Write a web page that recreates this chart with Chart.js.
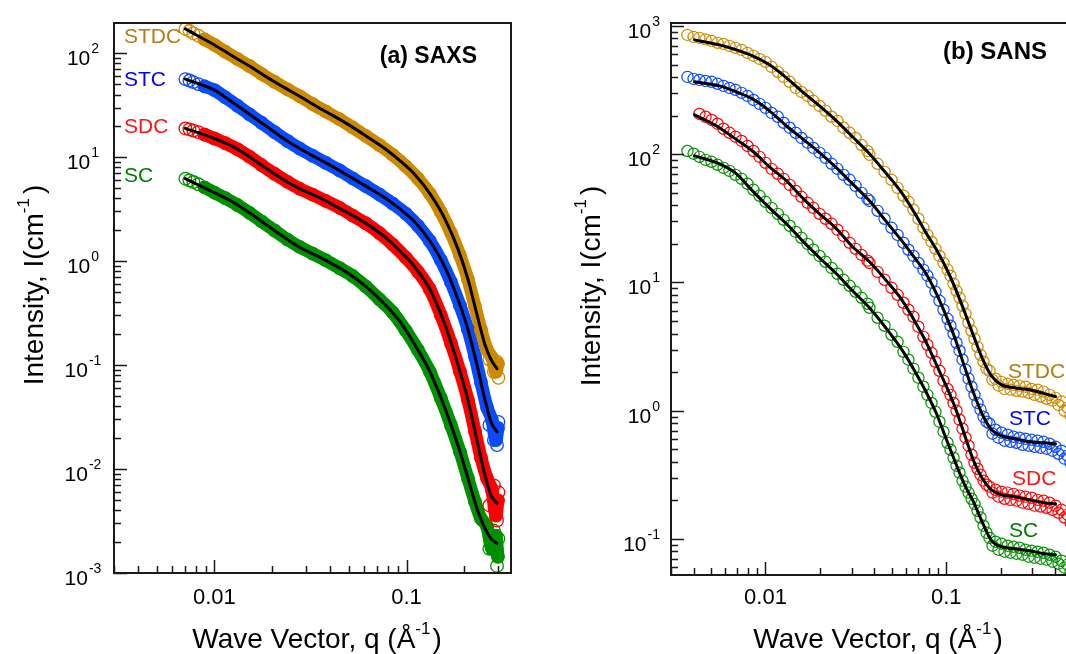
<!DOCTYPE html>
<html>
<head>
<meta charset="utf-8">
<title>SAXS and SANS intensity profiles</title>
<script src="https://cdn.jsdelivr.net/npm/chart.js@4.4.0/dist/chart.umd.min.js"></script>
<style>
  html, body { margin: 0; padding: 0; background: #fff; overflow: hidden; }
  #wrap { position: relative; width: 1066px; height: 654px; overflow: hidden; background: #fff; }
  #cA { position: absolute; left: 0; top: 0; }
  #cB { position: absolute; left: 540px; top: 0; }
</style>
</head>
<body>
<div id="wrap">
  <canvas id="cA" width="540" height="654"></canvas>
  <canvas id="cB" width="560" height="654"></canvas>
</div>
<script>
// ---------- sample names and tick labels ----------
const sampleNames = ['STDC', 'STC', 'SDC', 'SC'];
const xTickValues = [0.01, 0.1];
const xTickLabels = ['0.01', '0.1'];
const yExpSaxs = [-3, -2, -1, 0, 1, 2];
const yExpSans = [-1, 0, 1, 2, 3];

// ---------- (a) SAXS: measured points ----------
const saxsQ = [0.00706, 0.00741, 0.00777, 0.00825, 0.00887, 0.0100, 0.01141, 0.01318, 0.01522, 0.01758,
  0.02056, 0.02403, 0.02776, 0.03245, 0.03793, 0.04488, 0.05247, 0.06133, 0.07256, 0.08483,
  0.09917, 0.1146, 0.1323, 0.1510, 0.1703, 0.1897, 0.2088, 0.2272, 0.2441, 0.2624,
  0.2786, 0.2922, 0.2993];
const saxsSTDC = [171, 164, 155, 147, 136, 120, 103, 87.9, 75.2, 63.2,
  53.0, 44.8, 38.6, 32.4, 27.5, 23.1, 19.3, 16.0, 13.0, 10.5,
  8.18, 6.24, 4.45, 2.96, 1.87, 1.14, 0.670, 0.367, 0.220, 0.141,
  0.118, 0.0863, 0.103];
const saxsSTC = [56.3, 54.5, 52.7, 50.4, 48.0, 44.1, 37.5, 31.2, 25.8, 21.4,
  17.4, 14.3, 12.1, 10.3, 8.83, 7.44, 6.24, 5.27, 4.35, 3.57,
  2.86, 2.19, 1.56, 1.02, 0.629, 0.375, 0.220, 0.121, 0.0684, 0.0393,
  0.0296, 0.0190, 0.0248];
const saxsSDC = [18.9, 18.5, 18.0, 17.4, 16.5, 15.1, 13.6, 11.9, 10.1, 8.39,
  6.91, 5.77, 4.97, 4.36, 3.79, 3.25, 2.74, 2.31, 1.85, 1.44,
  1.08, 0.793, 0.536, 0.302, 0.163, 0.0869, 0.0463, 0.0232, 0.0129, 0.00815,
  0.00624, 0.00357, 0.00499];
const saxsSC = [6.21, 5.98, 5.76, 5.48, 5.12, 4.55, 4.02, 3.46, 2.91, 2.41,
  1.97, 1.61, 1.37, 1.18, 1.02, 0.854, 0.718, 0.571, 0.426, 0.320,
  0.214, 0.140, 0.0863, 0.0480, 0.0265, 0.0147, 0.00815, 0.00485, 0.00334, 0.00280,
  0.00171, 0.00229, 0.00143];
// scattered points at the high-q end
const saxsTailQ = [0.2700, 0.2850, 0.2960, 0.3010];
const saxsTailSTDC = [0.113, 0.0863, 0.108, 0.0755];
const saxsTailSTC = [0.0265, 0.0190, 0.0170, 0.0284];
const saxsTailSDC = [0.00447, 0.00697, 0.00320, 0.00597];
const saxsTailSC = [0.00171, 0.00256, 0.00117, 0.00214];

// ---------- (a) SAXS: model fits ----------
const saxsFitQ = [0.00706, 0.0100, 0.01241, 0.01522, 0.01867, 0.0229, 0.02776, 0.0353, 0.04125, 0.0506,
  0.0621, 0.0770, 0.0923, 0.1105, 0.1323, 0.1584, 0.1852, 0.2088, 0.2326, 0.2562, 0.2754, 0.2959];
const saxsFitSTDC = [171, 120, 94, 75.2, 58.9, 47.1, 38.5, 29.5, 25.2, 20.2,
  15.8, 12.1, 9.27, 6.79, 4.45, 2.55, 1.31, 0.670, 0.307, 0.157, 0.113, 0.0923];
const saxsFitSTC = [56.3, 44.1, 33.7, 25.8, 19.8, 15.1, 12.1, 9.48, 8.11, 6.49,
  5.20, 4.07, 3.18, 2.38, 1.56, 0.875, 0.429, 0.220, 0.101, 0.0463, 0.0284, 0.0227];
const saxsFitSDC = [18.9, 15.1, 12.7, 10.1, 7.76, 6.07, 4.97, 4.07, 3.48, 2.85,
  2.28, 1.71, 1.25, 0.875, 0.536, 0.246, 0.101, 0.0463, 0.0190, 0.00871, 0.00558, 0.00467];
const saxsFitSC = [6.21, 4.55, 3.72, 2.91, 2.23, 1.71, 1.36, 1.09, 0.935, 0.749,
  0.561, 0.384, 0.263, 0.157, 0.0863, 0.0387, 0.0170, 0.00815, 0.00418, 0.00268, 0.00214, 0.00192];

// ---------- (b) SANS: measured points (three detector settings) ----------
const sansQ = [
  0.00370, 0.00400, 0.00431, 0.00466, 0.00503, 0.00543, 0.00586, 0.00632, 0.00682, 0.00737,
  0.00795, 0.00858, 0.00927, 0.0100, 0.0108, 0.0117, 0.0126, 0.0136, 0.0147, 0.0158,
  0.0171, 0.0184, 0.0199, 0.0215, 0.0232, 0.0250, 0.0270, 0.0292, 0.0315, 0.0340, 0.0367,
  0.0376, 0.0417, 0.0456, 0.0498, 0.0538, 0.0580, 0.0618, 0.0659, 0.0702, 0.0748,
  0.0787, 0.0829, 0.0872, 0.0918, 0.0966, 0.1017, 0.1056, 0.1098, 0.1140, 0.1185,
  0.1231, 0.1279, 0.1329, 0.1381, 0.1434, 0.1490, 0.1548, 0.1609, 0.1671,
  0.1736, 0.1804, 0.1874, 0.1947, 0.2023, 0.2102, 0.2184, 0.2269, 0.2358, 0.2449,
  0.2545, 0.2644, 0.2747, 0.2854, 0.2965, 0.3081, 0.3201, 0.3326, 0.3455, 0.3590,
  0.3730, 0.3875, 0.4026, 0.4183, 0.4346, 0.4515, 0.4691, 0.4874];
const sansSTDC = [
  852, 822, 808, 786, 765, 739, 725, 700, 675, 651,
  617, 585, 554, 525, 480, 439, 401, 367, 329, 306,
  285, 261, 238, 218, 196, 182, 161, 147, 134, 118, 106,
  98.9, 84.2, 72.9, 63.2, 54.7, 47.4, 42.6, 36.9, 31.4, 26.7,
  23.5, 20.8, 18.3, 16.1, 14.2, 12.6, 11.3, 9.77, 8.62, 7.60,
  6.58, 5.70, 4.85, 4.20, 3.64, 3.15, 2.73, 2.41, 2.13,
  2.05, 1.74, 1.78, 1.57, 1.68, 1.48, 1.62, 1.46, 1.59, 1.43,
  1.57, 1.41, 1.54, 1.38, 1.48, 1.33, 1.46, 1.29, 1.41, 1.24,
  1.33, 1.20, 1.26, 1.11, 1.18, 1.00, 1.06, 0.914];
const sansSTC = [
  401, 387, 380, 373, 367, 354, 341, 329, 318, 301,
  285, 265, 247, 230, 210, 196, 176, 161, 147, 134,
  123, 112, 103, 93.7, 84.2, 76.9, 69.1, 63.2, 56.7, 50.0, 44.9,
  43.3, 36.2, 31.4, 26.7, 23.5, 20.4, 18.0, 16.1, 14.2, 12.6,
  11.3, 9.95, 8.46, 7.20, 6.13, 5.21, 4.60, 3.98, 3.39, 2.94,
  2.50, 2.09, 1.78, 1.54, 1.33, 1.15, 1.02, 0.898, 0.821,
  0.792, 0.662, 0.711, 0.616, 0.674, 0.584, 0.650, 0.573, 0.627, 0.563,
  0.616, 0.543, 0.605, 0.534, 0.594, 0.524, 0.584, 0.515, 0.573, 0.506,
  0.553, 0.488, 0.524, 0.462, 0.488, 0.423, 0.446, 0.393];
const sansSDC = [
  null, null, 206, 196, 185, 173, 158, 147, 137, 127,
  116, 106, 95.4, 85.7, 76.9, 70.4, 64.3, 57.7, 51.8, 46.6,
  41.8, 38.2, 34.3, 31.4, 28.7, 25.8, 23.1, 20.4, 18.3, 16.4, 14.8,
  14.2, 12.1, 10.5, 9.09, 8.02, 6.95, 6.13, 5.40, 4.52, 3.77,
  3.27, 2.83, 2.41, 2.05, 1.71, 1.48, 1.33, 1.15, 1.00, 0.851,
  0.724, 0.616, 0.534, 0.454, 0.393, 0.353, 0.317, 0.285, 0.265,
  0.256, 0.230, 0.242, 0.214, 0.234, 0.206, 0.230, 0.202, 0.225, 0.199,
  0.218, 0.192, 0.214, 0.188, 0.210, 0.182, 0.202, 0.179, 0.199, 0.175,
  0.192, 0.169, 0.182, 0.160, 0.169, 0.147, 0.155, 0.134];
const sansSC = [
  106, 101, 95.4, 90.4, 87.3, 82.7, 78.3, 74.2, 69.1, 64.3,
  58.8, 52.8, 47.4, 42.6, 38.2, 34.3, 30.8, 27.7, 24.8, 22.3,
  20.0, 18.0, 16.1, 14.5, 13.0, 11.7, 10.5, 9.43, 8.46, 7.60, 6.82,
  6.35, 5.31, 4.60, 3.91, 3.45, 2.88, 2.50, 2.13, 1.81, 1.54,
  1.33, 1.15, 0.982, 0.821, 0.686, 0.563, 0.497, 0.430, 0.373, 0.329,
  0.285, 0.256, 0.230, 0.206, 0.188, 0.166, 0.147, 0.127, 0.112,
  0.102, 0.0887, 0.0953, 0.0825, 0.0919, 0.0796, 0.0887, 0.0782, 0.0871, 0.0768,
  0.0855, 0.0754, 0.0825, 0.0728, 0.0811, 0.0715, 0.0796, 0.0702, 0.0782, 0.0690,
  0.0754, 0.0665, 0.0728, 0.0642, 0.0677, 0.0598, 0.0631, 0.0556];

// ---------- (b) SANS: model fits ----------
const sansFitQ = [0.00405, 0.00556, 0.00691, 0.00847, 0.01052, 0.01307, 0.01603, 0.01990, 0.02471, 0.03031,
  0.03763, 0.04672, 0.05731, 0.06677, 0.07682, 0.08838, 0.1004, 0.1126, 0.1263, 0.1416,
  0.1588, 0.1781, 0.2023, 0.2388, 0.2891, 0.3499, 0.4026];
const sansFitSTDC = [779, 712, 651, 585, 498, 394, 306, 238, 182, 137,
  101, 70.4, 49.1, 34.9, 24.8, 18.0, 12.8, 8.93, 5.91, 3.84,
  2.54, 1.87, 1.59, 1.51, 1.46, 1.36, 1.29];
const sansFitSTC = [367, 341, 306, 270, 218, 166, 132, 103, 78.3, 58.8,
  43.3, 29.7, 20.8, 15.6, 11.9, 8.16, 5.40, 3.58, 2.20, 1.38,
  0.931, 0.711, 0.638, 0.605, 0.573, 0.563, 0.553];
const sansFitSDC = [203, 161, 130, 106, 79.8, 62.0, 45.7, 34.3, 26.2, 19.0,
  14.5, 10.3, 7.20, 5.03, 3.51, 2.28, 1.54, 1.04, 0.650, 0.408,
  0.295, 0.242, 0.221, 0.214, 0.202, 0.192, 0.188];
const sansFitSC = [97.2, 84.2, 70.4, 51.8, 38.2, 28.7, 21.1, 15.6, 11.7, 8.62,
  6.35, 4.36, 2.94, 2.05, 1.43, 0.948, 0.594, 0.393, 0.265, 0.195,
  0.134, 0.0970, 0.0871, 0.0840, 0.0811, 0.0768, 0.0754];

// ---------- styling ----------
const dataColors = { STDC: '#CC8A00', STC: '#0A4BFF', SDC: '#FF0000', SC: '#009000' };
const textColors = { STDC: '#B27C16', STC: '#0000FF', SDC: '#FF1414', SC: '#007A00' };
const FONT = "'Liberation Sans', Arial, Helvetica, sans-serif";
const font = (size, bold) => (bold ? 'bold ' : '') + size + 'px ' + FONT;

const pts = (qs, vs) => qs.map((q, i) => ({ x: q, y: vs[i] })).filter(p => p.y != null);

function drawRich(ctx, parts, x, y, align) {
  let total = 0;
  parts.forEach(p => { ctx.font = font(p.size, p.bold); p.w = ctx.measureText(p.t).width; total += p.w + (p.gap || 0); });
  let cx = align === 'center' ? x - total / 2 : (align === 'right' ? x - total : x);
  ctx.textAlign = 'left';
  parts.forEach(p => { ctx.font = font(p.size, p.bold); ctx.fillText(p.t, cx, y + (p.dy || 0)); cx += p.w + (p.gap || 0); });
}

function logTicks(min, max) {
  const out = [];
  for (let e = Math.floor(Math.log10(min)); e <= Math.ceil(Math.log10(max)); e++) {
    for (let k = 1; k <= 9; k++) {
      const v = k * Math.pow(10, e);
      if (v >= min * 0.9999 && v <= max * 1.0001) out.push({ v, major: k === 1 });
    }
  }
  return out;
}

// frame, inward ticks, tick labels, axis titles and sample labels
function decorations(cfg) {
  return {
    id: 'decor' + cfg.id,
    afterDatasetsDraw(chart) {
      const ctx = chart.ctx, a = chart.chartArea, xs = chart.scales.x, ys = chart.scales.y;
      ctx.save();
      ctx.strokeStyle = '#1a1a1a';
      ctx.lineWidth = 2;
      ctx.strokeRect(a.left, a.top, a.right - a.left, a.bottom - a.top);

      ctx.lineWidth = 1.5;
      ctx.beginPath();
      logTicks(ys.min, ys.max).forEach(t => {
        const py = Math.round(ys.getPixelForValue(t.v)) + 0.5;
        ctx.moveTo(a.left, py); ctx.lineTo(a.left + (t.major ? 13 : 7), py);
      });
      logTicks(xs.min, xs.max).forEach(t => {
        const px = Math.round(xs.getPixelForValue(t.v)) + 0.5;
        ctx.moveTo(px, a.bottom); ctx.lineTo(px, a.bottom - (t.major ? 13 : 7));
      });
      ctx.stroke();

      ctx.fillStyle = '#000';
      ctx.textBaseline = 'middle';
      cfg.yExp.forEach(e => {
        const py = ys.getPixelForValue(Math.pow(10, e));
        ctx.font = font(21); const w1 = ctx.measureText('10').width;
        ctx.font = font(14); const w2 = ctx.measureText(String(e)).width;
        const w = w1 + w2 + 1;
        const x0 = cfg.yAlign === 'center' ? cfg.yLabelX - w / 2 : cfg.yLabelX - w;
        ctx.textAlign = 'left';
        ctx.font = font(21); ctx.fillText('10', x0, py + 6);
        ctx.font = font(14); ctx.fillText(String(e), x0 + w1 + 1, py - 4);
      });
      ctx.textAlign = 'center';
      ctx.font = font(22);
      xTickValues.forEach((v, i) => ctx.fillText(xTickLabels[i], xs.getPixelForValue(v), cfg.xLabelY));

      ctx.textBaseline = 'alphabetic';
      drawRich(ctx, [
        { t: 'Wave Vector, q (Å', size: 28 },
        { t: '-1', size: 17, dy: -14, gap: 2 },
        { t: ')', size: 28 }
      ], cfg.xTitleX, cfg.xTitleY, 'center');

      ctx.save();
      ctx.translate(cfg.yTitleX, cfg.yTitleY);
      ctx.rotate(-Math.PI / 2);
      drawRich(ctx, [
        { t: 'Intensity, I(cm', size: 28 },
        { t: '-1', size: 17, dy: -14, gap: 4 },
        { t: ')', size: 28 }
      ], 0, 0, 'center');
      ctx.restore();

      ctx.textBaseline = 'middle';
      ctx.textAlign = cfg.titleAlign;
      ctx.font = font(cfg.titleSize, true);
      ctx.fillText(cfg.title, cfg.titleX, cfg.titleY);

      ctx.textAlign = 'left';
      ctx.font = font(21);
      cfg.labels.forEach(([name, x, y]) => { ctx.fillStyle = textColors[name]; ctx.fillText(name, x, y); });
      ctx.restore();
    }
  };
}

function makeChart(id, datasets, xr, yr, pad, plugin) {
  return new Chart(document.getElementById(id), {
    type: 'scatter',
    data: { datasets },
    options: {
      responsive: false, animation: false, devicePixelRatio: 1, events: [],
      layout: { padding: pad },
      plugins: { legend: { display: false }, tooltip: { enabled: false } },
      scales: {
        x: { type: 'logarithmic', min: xr[0], max: xr[1], display: false, bounds: 'data' },
        y: { type: 'logarithmic', min: yr[0], max: yr[1], display: false, bounds: 'data' }
      }
    },
    plugins: [plugin]
  });
}

function circles(data, color, r, bw) {
  return {
    data, showLine: false, order: 2,
    pointRadius: r, pointBorderWidth: bw, pointBorderColor: color,
    pointBackgroundColor: 'rgba(0,0,0,0)', borderColor: color, backgroundColor: 'rgba(0,0,0,0)'
  };
}
function fitLine(data) {
  return {
    data, showLine: true, order: 0, borderColor: '#000', borderWidth: 3,
    pointRadius: 0, cubicInterpolationMode: 'monotone', borderCapStyle: 'round'
  };
}

// ---------- panel (a) SAXS ----------
const saxsData = { STDC: saxsSTDC, STC: saxsSTC, SDC: saxsSDC, SC: saxsSC };
const saxsTail = { STDC: saxsTailSTDC, STC: saxsTailSTC, SDC: saxsTailSDC, SC: saxsTailSC };
const saxsFit = { STDC: saxsFitSTDC, STC: saxsFitSTC, SDC: saxsFitSDC, SC: saxsFitSC };
const dsA = [];
sampleNames.forEach(n => {
  const col = dataColors[n];
  // dense measured points merge into a continuous band
  dsA.push({
    data: pts(saxsQ, saxsData[n]), showLine: true, order: 3, borderColor: col, borderWidth: 13,
    pointRadius: 0, cubicInterpolationMode: 'monotone', borderCapStyle: 'round', borderJoinStyle: 'round',
    segment: { borderColor: c => (c.p0DataIndex < 4 ? 'rgba(0,0,0,0)' : undefined) }
  });
  dsA.push(circles(pts(saxsQ.concat(saxsTailQ), saxsData[n].concat(saxsTail[n])), col, 6.3, 1.3));
  dsA.push(fitLine(pts(saxsFitQ, saxsFit[n])));
});
makeChart('cA', dsA, [0.003, 0.35], [0.001, 195], { left: 114, top: 23, right: 29, bottom: 81 }, decorations({
  id: 'A', yExp: yExpSaxs, yLabelX: 83, yAlign: 'center', xLabelY: 598,
  xTitleX: 317, xTitleY: 648, yTitleX: 43, yTitleY: 285,
  title: '(a) SAXS', titleSize: 23, titleX: 477, titleY: 57, titleAlign: 'right',
  labels: [['STDC', 124, 37], ['STC', 124, 80], ['SDC', 124, 127], ['SC', 124, 176]]
}));

// ---------- panel (b) SANS ----------
const sansData = { STDC: sansSTDC, STC: sansSTC, SDC: sansSDC, SC: sansSC };
const sansFit = { STDC: sansFitSTDC, STC: sansFitSTC, SDC: sansFitSDC, SC: sansFitSC };
const dsB = [];
sampleNames.forEach(n => {
  dsB.push(circles(pts(sansQ, sansData[n]), dataColors[n], 5.6, 1.2));
  dsB.push(fitLine(pts(sansFitQ, sansFit[n])));
});
makeChart('cB', dsB, [0.003, 0.55], [0.0524, 1055], { left: 131, top: 23, right: 20, bottom: 79 }, decorations({
  id: 'B', yExp: yExpSans, yLabelX: 120, yAlign: 'right', xLabelY: 598,
  xTitleX: 338, xTitleY: 648, yTitleX: 60, yTitleY: 286,
  title: '(b) SANS', titleSize: 24, titleX: 403, titleY: 52, titleAlign: 'left',
  labels: [['STDC', 468, 372], ['STC', 469, 419], ['SDC', 472, 479], ['SC', 469, 531]]
}));
</script>
</body>
</html>
